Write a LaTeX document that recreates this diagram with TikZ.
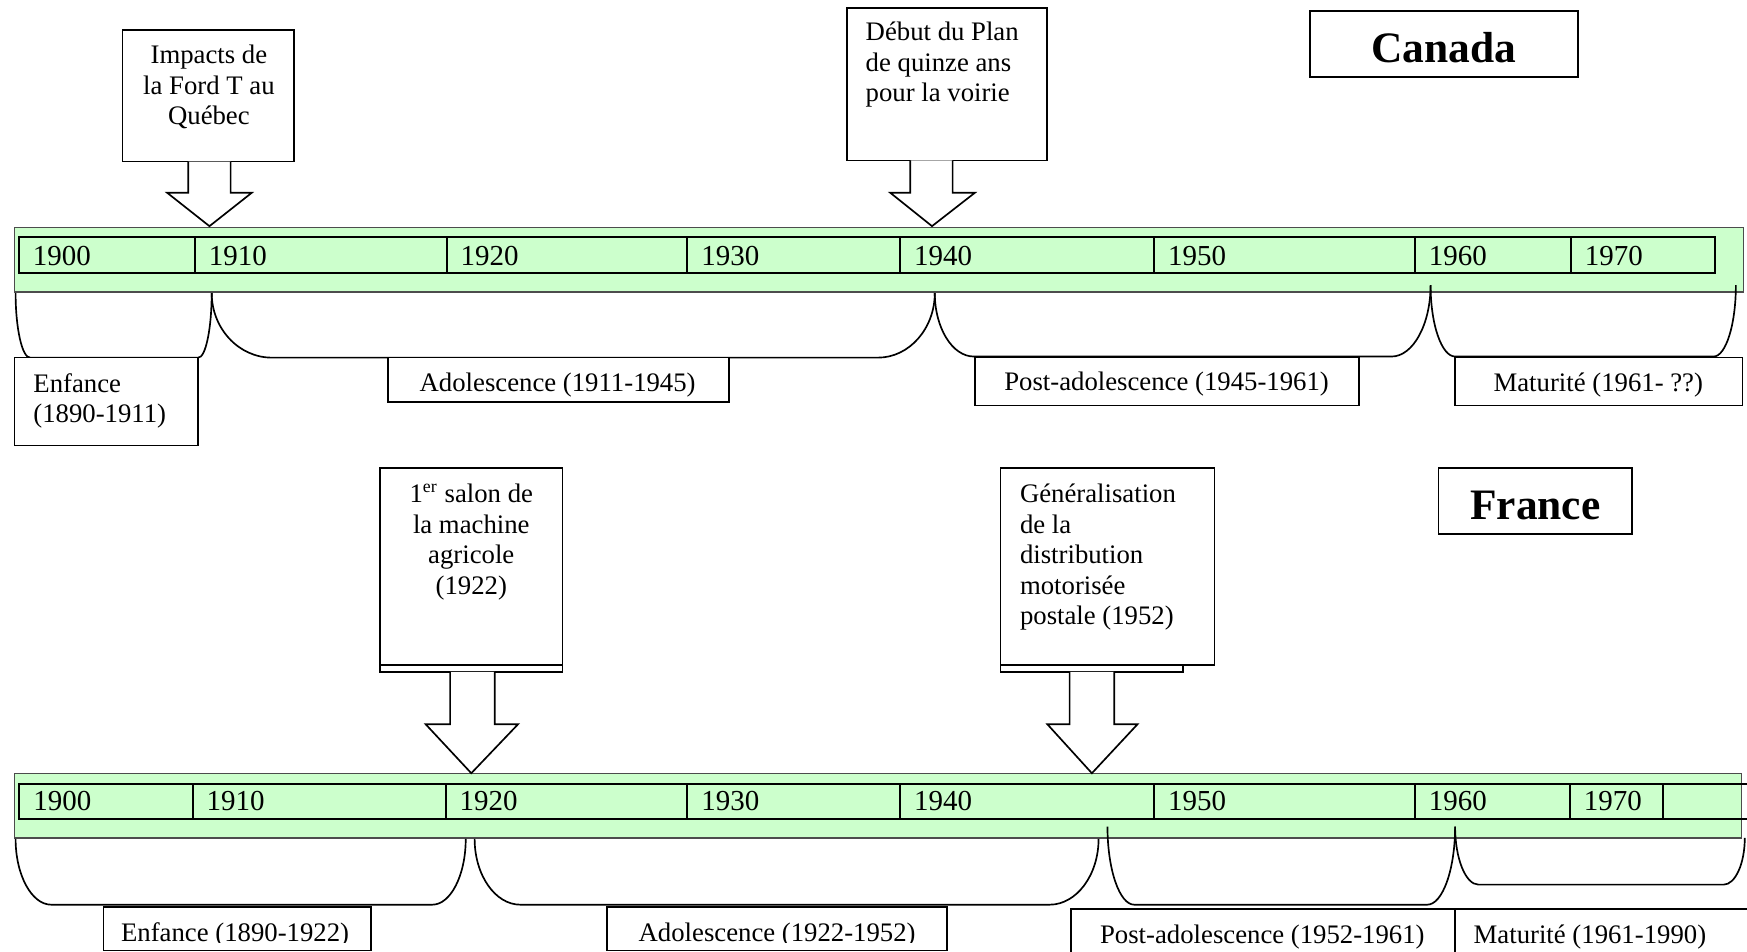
\documentclass[tikz,border=0pt]{standalone}
\usepackage{fontspec}
\setmainfont{Liberation Serif}
\definecolor{bandgreen}{HTML}{CCFFCC}
\newcommand\tlbrace[7]{% x1 y1 x2 y2 ybot dx1 dx2
  \draw[brk] (#1,#2) .. controls (#1,{#2+0.55*(#5-#2)}) and ({#1+0.45*#6},#5) .. ({#1+#6},#5)
    -- ({#3-#7},#5) .. controls ({#3-0.45*#7},#5) and (#3,{#4+0.55*(#5-#4)}) .. (#3,#4);}
\newcommand\tlbox[6][]{% [style] name x1 y1 x2 y2
  \node[box,#1,minimum width={(#5-#3)*0.5pt},minimum height={(#6-#4)*0.5pt},anchor=north west] (#2) at (#3,#4) {};}
\begin{document}
\begin{tikzpicture}[x=0.5pt,y=-0.5pt,
  box/.style={draw=black,line width=0.75pt,fill=white,inner sep=0pt,outer sep=0pt},
  txt/.style={inner sep=0pt,outer sep=0pt,font=\fontsize{12}{13.7}\selectfont},
  yr/.style={inner sep=0pt,outer sep=0pt,anchor=base west,font=\fontsize{13}{15}\selectfont},
  ttl/.style={inner sep=0pt,outer sep=0pt,anchor=base,font=\fontsize{19.5}{23}\selectfont\bfseries},
  brk/.style={draw=black,line width=0.75pt},
  blockarrow/.style={draw=black,line width=0.75pt,fill=white,line join=miter},
  band/.style={draw=black!70,fill=bandgreen,line width=0.6pt},
  row/.style={draw=black,line width=0.9pt}]
\useasboundingbox (0,0) rectangle (1568,854);
\clip (0,0) rectangle (1568,854);

%================ CANADA =================
\path[band] (13,204) rectangle (1565,262);
\draw[row] (17,213) rectangle (1539,245);
\foreach \d in {175,401,617,808,1036,1270,1410} \draw[row] (\d,213) -- (\d,245);
\node[yr] (ca1900) at (29.5,238) {1900};
\node[yr] (ca1910) at (187.5,238) {1910};
\node[yr] (ca1920) at (413.5,238) {1920};
\node[yr] (ca1930) at (629.5,238) {1930};
\node[yr] (ca1940) at (820.5,238) {1940};
\node[yr] (ca1950) at (1048.5,238) {1950};
\node[yr] (ca1960) at (1282.5,238) {1960};
\node[yr] (ca1970) at (1422.5,238) {1970};

% braces
\tlbrace{14}{263}{190}{263}{321}{13}{12}
\tlbrace{190}{263}{839}{263}{321}{54}{51}
\tlbrace{839}{263}{1284}{256}{320}{35}{35}
\tlbrace{1284}{256}{1558}{256}{320}{22}{20}

% period boxes
\tlbox{caEnfB}{13}{321}{178}{400}
\node[txt,anchor=north west,align=left] (caEnf) at (30,335) {Enfance\\(1890-1911)};
\tlbox{caAdoB}{348}{321}{654}{361}
\node[txt,anchor=base] (caAdo) at (500.5,351.5) {Adolescence (1911-1945)};
\tlbox{caPostB}{875}{321}{1220}{364}
\node[txt,anchor=base] (caPost) at (1047,350.5) {Post-adolescence (1945-1961)};
\tlbox{caMatB}{1306}{321}{1564}{364}
\node[txt,anchor=base] (caMat) at (1434.5,351.5) {Maturité (1961- ??)};

% event callouts
\tlbox{caFordB}{110}{27}{264}{145}
\node[txt,anchor=north,align=center] (caFord) at (187.5,40.4) {Impacts de\\la Ford T au\\Québec};
\draw[blockarrow] (169,145) -- (169,173) -- (150,173) -- (188,203) -- (226,173) -- (207,173) -- (207,145);
\tlbox{caPlanB}{760}{7}{940}{144}
\node[txt,anchor=north west,align=left] (caPlan) at (777,20) {Début du Plan\\de quinze ans\\pour la voirie};
\draw[blockarrow] (817,144) -- (817,173) -- (799,173) -- (836.5,203) -- (875,173) -- (855,173) -- (855,144);

% title
\tlbox{caTitleB}{1176}{10}{1416}{69}
\node[ttl] (caTitle) at (1296,56.2) {Canada};

%================ FRANCE =================
\path[band] (13,694) rectangle (1563,752);
\draw[row] (1580,703.5) -- (17,703.5) -- (17,735) -- (1580,735);
\foreach \d in {173,400,617,808,1036,1270,1409,1493} \draw[row] (\d,703.5) -- (\d,735);
\node[yr] (fr1900) at (30,727.5) {1900};
\node[yr] (fr1910) at (185.5,727.5) {1910};
\node[yr] (fr1920) at (412.5,727.5) {1920};
\node[yr] (fr1930) at (629.5,727.5) {1930};
\node[yr] (fr1940) at (820.5,727.5) {1940};
\node[yr] (fr1950) at (1048.5,727.5) {1950};
\node[yr] (fr1960) at (1282.5,727.5) {1960};
\node[yr] (fr1970) at (1421.5,727.5) {1970};

\tlbrace{14}{753}{418}{753}{812}{32}{30}
\tlbrace{426}{753}{986}{753}{812}{41}{44}
\tlbrace{994}{742}{1306}{742}{812}{24}{25}
\tlbrace{1306}{742}{1566}{752}{794}{21}{19}

\tlbox{frEnfB}{93}{814}{333}{853}
\tlbox{frAdoB}{545}{814}{850}{853}
\begin{scope}
  \clip (0,0) rectangle (1568,845.5);
  \node[txt,anchor=base] (frEnf) at (211,845) {Enfance (1890-1922)};
  \node[txt,anchor=base] (frAdo) at (697.5,845) {Adolescence (1922-1952)};
\end{scope}
\tlbox{frPostB}{961}{816}{1306}{880}
\node[txt,anchor=base] (frPost) at (1133,847) {Post-adolescence (1952-1961)};
\tlbox{frMatB}{1306}{816}{1600}{880}
\node[txt,anchor=base] (frMat) at (1427,847) {Maturité (1961-1990)};

% event callouts
\tlbox{frSalonB}{341}{420}{505}{603}
\draw[line width=0.75pt] (frSalonB.west |- 0,597) -- (frSalonB.east |- 0,597);
\node[txt,anchor=north,align=center] (frSalon) at (423,434.4) {1\textsuperscript{er} salon de\\la machine\\agricole\\(1922)};
\draw[blockarrow] (404,603) -- (404,650) -- (382,650) -- (423,694) -- (465,650) -- (444,650) -- (444,603);
\tlbox{frPosteBand}{898}{590}{1062}{603}
\tlbox{frPosteB}{898}{420}{1090}{597}
\node[txt,anchor=north west,align=left] (frPoste) at (915.5,434.4) {Généralisation\\de la\\distribution\\motorisée\\postale (1952)};
\draw[blockarrow] (960,603) -- (960,650) -- (940,650) -- (980,694) -- (1021,650) -- (1000,650) -- (1000,603);

\tlbox{frTitleB}{1291}{420}{1465}{479}
\node[ttl] (frTitle) at (1378,466.7) {France};
\end{tikzpicture}
\end{document}
